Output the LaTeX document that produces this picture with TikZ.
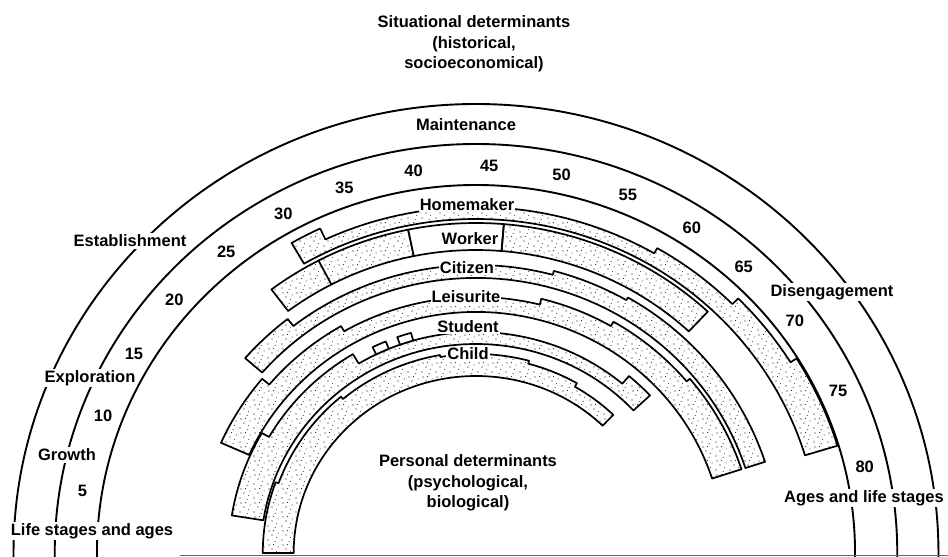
\documentclass[tikz,border=0pt]{standalone}
\usepackage{fontspec}
\setmainfont{Liberation Sans}
\usetikzlibrary{patterns}

% sparse stipple for the role bands
\pgfdeclarepatternformonly{stipple}{\pgfpoint{-1pt}{-1pt}}{\pgfpoint{15pt}{15pt}}{\pgfpoint{14pt}{14pt}}{%
  \pgfpathcircle{\pgfpoint{2pt}{3pt}}{0.6pt}
  \pgfpathcircle{\pgfpoint{9pt}{1.5pt}}{0.5pt}
  \pgfpathcircle{\pgfpoint{6pt}{8pt}}{0.7pt}
  \pgfpathcircle{\pgfpoint{12pt}{10pt}}{0.5pt}
  \pgfpathcircle{\pgfpoint{3pt}{12pt}}{0.55pt}
  \pgfpathcircle{\pgfpoint{10.5pt}{5.5pt}}{0.45pt}
  \pgfpathcircle{\pgfpoint{7.5pt}{12.5pt}}{0.5pt}
  \pgfusepath{fill}}

% ring with a stepped outer edge: [style]{inner radius}{start}{end}{start/end/outer radius,...}
\newcommand{\roleband}[5][stippleband]{%
  \draw[#1] (#3:#2) \foreach \p/\q/\w in {#5} { -- (\p:\w) arc[start angle=\p, end angle=\q, radius=\w] }
    -- (#4:#2) arc[start angle=#4, end angle=#3, radius=#2] -- cycle;}

\begin{document}
\begin{tikzpicture}[
    x=1pt, y=1pt,
    agearc/.style={line width=1.9pt},
    band/.style={line width=1.7pt, line join=round},
    stippleband/.style={band, pattern=stipple},
    whiteband/.style={band, fill=white},
    stagelabel/.style={font=\bfseries\fontsize{16.5}{20}\selectfont, fill=white, inner sep=1.5pt, align=center},
    rolelabel/.style={stagelabel, inner sep=1pt},
    agenum/.style={font=\bfseries\fontsize{16.5}{20}\selectfont, inner sep=0pt},
    notelabel/.style={font=\bfseries\fontsize{16.5}{20.5}\selectfont, align=center}
]
\useasboundingbox (-476,-4) rectangle (472,553);

\begin{scope}[xscale=1.03]
  % life stage and age arcs
  \foreach \rad in {449, 409, 368}
    \draw[agearc] (-\rad,-4) -- (180:\rad) arc[start angle=180, end angle=0, radius=\rad] -- (\rad,-4);

  % role bands
  \roleband{334}{120}{17}{120/115/358, 115/60/346, 60/45/352, 45/32/360, 32/17/367}
  \roleband{303}{127}{101.5}{127/101.5/330}
  \roleband[whiteband]{303}{101.5}{85.3}{101.5/85.3/330}
  \roleband{303}{85.3}{47}{85.3/47/330}
  \draw[band] (117.6:303) -- (117.6:330);
  \roleband{275}{139}{18}{139/128/297, 128/75/288, 75/60/292, 60/18/295}
  \roleband{241}{156}{18}{156/140/271, 140/120/262, 120/76/256, 76/60/262, 60/40/267, 40/18/271}
  \roleband{209}{171}{43}{171/150/240, 150/121/232, 121/50/221, 50/43/231}
  \roleband{177}{180}{46}{180/160/207, 160/130/204, 130/100/201, 100/75/199, 75/60/196, 60/46/192}
  \roleband[whiteband]{221}{116}{112.5}{116/112.5/229}
  \roleband[whiteband]{221}{109.5}{106}{109.5/106/229}

  % ages
  \foreach \n/\t in {5/170.8, 10/159.3, 15/149.1, 20/139.2, 25/128.8, 30/118.9, 35/109.3, 40/99,
                     45/88.1, 50/77.6, 55/67.6, 60/57.2, 65/47.8, 70/36.9, 75/24.7, 80/12.8}
    \node[agenum] (age\n) at (\t:387) {\n};
\end{scope}
\draw[line width=0.9pt, black!60] (-296,-2.5) -- (472,-2.5);

% stages
\node[stagelabel] (maintenance) at (-10,428) {Maintenance};
\node[stagelabel] (establishment) at (-346,312) {Establishment};
\node[stagelabel] (exploration) at (-386,175) {Exploration};
\node[stagelabel] (growth) at (-409,98) {Growth};
\node[stagelabel] (disengagement) at (356,261) {Disengagement};
\node[stagelabel] (stagesages) at (-384,22) {Life stages and ages};
\node[stagelabel] (agesstages) at (388,55) {Ages and life stages};

% roles
\node[rolelabel] (homemaker) at (-9,348) {Homemaker};
\node[stagelabel, fill=none] (worker) at (-6,314) {Worker};
\node[rolelabel] (citizen) at (-9,285) {Citizen};
\node[rolelabel] (leisurite) at (-10,256) {Leisurite};
\node[rolelabel] (student) at (-8,226) {Student};
\node[rolelabel] (child) at (-8,199) {Child};

% determinants
\node[notelabel] (situational) at (-2,509) {Situational determinants\\(historical,\\socioeconomical)};
\node[notelabel] (personal) at (-8,70) {Personal determinants\\(psychological,\\biological)};
\end{tikzpicture}
\end{document}
